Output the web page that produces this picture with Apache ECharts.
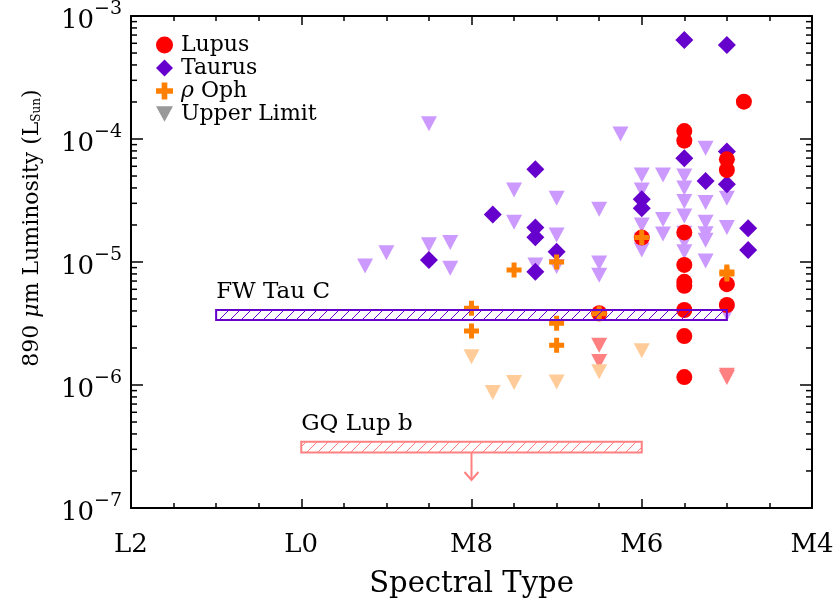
<!DOCTYPE html>
<html><head><meta charset="utf-8">
<script src="https://cdn.jsdelivr.net/npm/echarts@6/dist/echarts.min.js"></script>
<style>html,body{margin:0;padding:0;background:#fff}#c{width:835px;height:603px}</style>
</head><body><div id="c"></div>
<script>
// Spectral type encoded numerically: M4=4 ... M9=9, L0=10, L1=11, L2=12
const xTickValues = [4, 6, 8, 10, 12];
const xTickLabels = ['M4', 'M6', 'M8', 'L0', 'L2'];
const xRange = [4, 12];
const yRange = [1e-7, 1e-3];

const lupus = [[6,1.58e-5],[6.5,3.83e-6],
  [5.5,1.16e-4],[5.5,9.7e-5],[5.5,1.74e-5],[5.5,9.46e-6],[5.5,6.9e-6],[5.5,6.4e-6],[5.5,4.07e-6],[5.5,2.5e-6],[5.5,1.16e-6],
  [5,6.84e-5],[5,5.6e-5],[5,6.6e-6],[5,4.47e-6],[4.8,2.01e-4]];
const taurus = [[8.5,1.04e-5],[7.75,2.43e-5],[7.25,5.68e-5],[7.25,1.91e-5],[7.25,1.59e-5],[7.25,8.34e-6],[7,1.21e-5],
  [6,3.24e-5],[6,2.74e-5],[5.5,6.38e-4],[5.5,6.97e-5],[5.25,4.56e-5],[5,5.81e-4],[5,7.9e-5],[5,4.28e-5],[4.75,1.88e-5],[4.75,1.25e-5]];
const rhoOph = [[8,4.2e-6],[8,2.75e-6],[7.5,8.6e-6],[7,1.0e-5],[7,3.18e-6],[7,2.1e-6],[6.5,3.8e-6],[6,1.58e-5],[5,8.3e-6],[5,8.0e-6]];
const taurusUL = [[9.25,9.27e-6],[9,1.19e-5],[8.5,1.38e-5],[8.5,1.33e-4],[8.25,1.44e-5],[8.25,8.9e-6],
  [7.5,3.85e-5],[7.5,2.1e-5],[7.25,9.46e-6],[7,3.3e-5],[7,1.66e-5],[7,9.2e-6],
  [6.5,2.68e-5],[6.5,9.8e-6],[6.5,7.8e-6],[6.25,1.1e-4],
  [6,5.1e-5],[6,3.85e-5],[6,2.0e-5],[6,1.51e-5],[6,1.25e-5],
  [5.75,5.1e-5],[5.75,2.22e-5],[5.75,1.69e-5],
  [5.5,5.0e-5],[5.5,4.0e-5],[5.5,3.1e-5],[5.5,2.37e-5],[5.5,1.71e-5],[5.5,1.46e-5],[5.5,1.21e-5],
  [5.25,8.4e-5],[5.25,3.04e-5],[5.25,2.1e-5],[5.25,1.7e-5],[5.25,1.5e-5],[5.25,1.02e-5],
  [5,3.3e-5],[5,1.91e-5],[5,3.8e-6]];
const lupusUL = [[6.5,2.1e-6],[6.5,1.55e-6],[5,1.2e-6],[5,1.15e-6]];
const rhoOphUL = [[8,1.7e-6],[7.75,8.7e-7],[7.5,1.05e-6],[7,1.06e-6],[6.5,1.28e-6],[6,1.9e-6]];

// companion boxes: [xStart, xEnd, yLow, yHigh]
const boxNames = ['FW Tau C', 'GQ Lup b'];
const boxes = [[11, 5, 3.37e-6, 4.07e-6], [10, 6, 2.82e-7, 3.46e-7]];
const boxColors = ['#6600cc', '#ff8080'];
// upper-limit arrow for GQ Lup b: [x, yFrom, yTo]
const gqArrow = [[8, 2.82e-7, 1.69e-7]];

const minorMult = [2,3,4,5,6,7,8,9];
const decades = [1e-7,1e-6,1e-5,1e-4];
const yMinorTicks = [];
decades.forEach(d => minorMult.forEach(m => yMinorTicks.push(m * d)));

const FONT = '"DejaVu Serif"';
const plusPath = 'path://M5,0H10V5H15V10H10V15H5V10H0V5H5Z';
const triPath = 'path://M0,0H20L10,18Z';

function hatch(color) {
  const c = document.createElement('canvas');
  c.width = 11; c.height = 11;
  const g = c.getContext('2d');
  g.strokeStyle = color; g.lineWidth = 1;
  g.beginPath();
  g.moveTo(0, 11); g.lineTo(11, 0);
  g.moveTo(-5.5, 5.5); g.lineTo(5.5, -5.5);
  g.moveTo(5.5, 16.5); g.lineTo(16.5, 5.5);
  g.stroke();
  return c;
}
const hatches = boxColors.map(hatch);

const chart = echarts.init(document.getElementById('c'), null, {renderer: 'canvas'});

const axisCommon = {
  axisLine: {show: true, onZero: false, lineStyle: {color: '#000', width: 2}},
  splitLine: {show: false}
};
const solid = c => ({color: c, opacity: 1});

chart.setOption({
  animation: false,
  backgroundColor: '#fff',
  grid: {left: 131, right: 23, top: 16, bottom: 95, containLabel: false, outerBoundsMode: 'none'},
  legend: {
    data: [
      {name: 'Lupus', icon: 'circle'},
      {name: 'Taurus', icon: 'diamond'},
      {name: 'ρ Oph', icon: plusPath},
      {name: 'Upper Limit', icon: triPath}
    ],
    orient: 'vertical', left: 151, top: 29, padding: 5,
    itemWidth: 17, itemHeight: 17, itemGap: 1,
    formatter: n => n === 'ρ Oph' ? '{i|ρ} Oph' : n,
    textStyle: {fontFamily: FONT, fontSize: 22, lineHeight: 20, color: '#000', padding: [0, 0, 0, 3],
      rich: {i: {fontFamily: FONT, fontSize: 22, lineHeight: 20, fontStyle: 'italic'}}}
  },
  xAxis: [
    Object.assign({}, axisCommon, {
      type: 'value', min: xRange[0], max: xRange[1], interval: 2, inverse: true, position: 'bottom',
      axisTick: {inside: true, length: 9, lineStyle: {color: '#000', width: 1.5}},
      minorTick: {show: true, splitNumber: 4, length: 5, lineStyle: {color: '#000', width: 1.5}},
      axisLabel: {margin: 24, fontFamily: FONT, fontSize: 26, color: '#000', showMinLabel: true, showMaxLabel: true,
        formatter: v => { const i = xTickValues.indexOf(v); return i >= 0 ? xTickLabels[i] : ''; }},
      name: 'Spectral Type', nameLocation: 'middle', nameGap: 62,
      nameTextStyle: {fontFamily: FONT, fontSize: 29, color: '#000'}
    }),
    Object.assign({}, axisCommon, {
      type: 'value', min: xRange[0], max: xRange[1], interval: 2, inverse: true, position: 'top',
      axisTick: {inside: true, length: 9, lineStyle: {color: '#000', width: 1.5}},
      minorTick: {show: true, splitNumber: 4, length: 5, lineStyle: {color: '#000', width: 1.5}},
      axisLabel: {show: false}
    })
  ],
  yAxis: [
    Object.assign({}, axisCommon, {
      type: 'log', logBase: 10, min: yRange[0], max: yRange[1], position: 'left',
      axisTick: {inside: true, length: 12, lineStyle: {color: '#000', width: 1.5}},
      axisLabel: {margin: 9, color: '#000', lineHeight: 36,
        formatter: v => '{b|10}{e|−' + Math.round(-Math.log10(v)) + '}',
        rich: {
          b: {fontFamily: FONT, fontSize: 26, color: '#000', height: 26, verticalAlign: 'bottom'},
          e: {fontFamily: FONT, fontSize: 19, color: '#000', height: 22, verticalAlign: 'top'}
        }},
      name: '890 {i|μ}m Luminosity (L{s|Sun})', nameLocation: 'middle', nameGap: 88,
      nameTextStyle: {fontFamily: FONT, fontSize: 22, color: '#000', padding: [0, 0, 0, 68],
        rich: {
          i: {fontFamily: FONT, fontSize: 22, fontStyle: 'italic', color: '#000'},
          s: {fontFamily: FONT, fontSize: 12, color: '#000', verticalAlign: 'bottom'}
        }}
    }),
    Object.assign({}, axisCommon, {
      type: 'log', logBase: 10, min: yRange[0], max: yRange[1], position: 'right',
      axisTick: {inside: true, length: 12, lineStyle: {color: '#000', width: 1.5}},
      axisLabel: {show: false}
    })
  ],
  series: [
    {type: 'custom', name: 'yMinor', silent: true, z: 1,
      data: yMinorTicks.map(v => [8, v]),
      renderItem: (params, api) => {
        const cs = params.coordSys;
        const y = api.coord([8, api.value(1)])[1];
        return {type: 'group', children: [
          {type: 'line', shape: {x1: cs.x, y1: y, x2: cs.x + 6, y2: y}, style: {stroke: '#000', lineWidth: 1.5}},
          {type: 'line', shape: {x1: cs.x + cs.width, y1: y, x2: cs.x + cs.width - 6, y2: y}, style: {stroke: '#000', lineWidth: 1.5}}
        ]};
      }},
    {type: 'scatter', name: 'Taurus UL', data: taurusUL, symbol: triPath, symbolSize: [16, 15], itemStyle: solid('#cc99ff'), z: 2},
    {type: 'scatter', name: 'Lupus UL', data: lupusUL, symbol: triPath, symbolSize: [16, 15], itemStyle: solid('#ff8080'), z: 2},
    {type: 'scatter', name: 'ρ Oph UL', data: rhoOphUL, symbol: triPath, symbolSize: [16, 15], itemStyle: solid('#ffcc99'), z: 2},
    {type: 'scatter', name: 'Taurus', data: taurus, symbol: 'diamond', symbolSize: 18, itemStyle: solid('#6600cc'), z: 3},
    {type: 'scatter', name: 'Lupus', data: lupus, symbol: 'circle', symbolSize: 16, itemStyle: solid('#ff0000'), z: 4},
    {type: 'scatter', name: 'ρ Oph', data: rhoOph, symbol: plusPath, symbolSize: 15, itemStyle: solid('#ff8000'), z: 5},
    {type: 'scatter', name: 'Upper Limit', data: [], symbol: triPath, itemStyle: solid('#999999')},
    {type: 'custom', name: 'boxes', z: 6, silent: true,
      data: boxes,
      encode: {x: [0, 1], y: [2, 3]},
      renderItem: (params, api) => {
        const i = params.dataIndex;
        const a = api.coord([api.value(0), api.value(3)]);
        const b = api.coord([api.value(1), api.value(2)]);
        return {type: 'group', children: [
          {type: 'rect', shape: {x: a[0], y: a[1], width: b[0] - a[0], height: b[1] - a[1]},
            style: {fill: {image: hatches[i], repeat: 'repeat'}, stroke: boxColors[i], lineWidth: 2}},
          {type: 'text', x: a[0], y: a[1] - 6,
            style: {text: boxNames[i], fontFamily: FONT, fontSize: 23, fill: '#000', align: 'left', verticalAlign: 'bottom'}}
        ]};
      }},
    {type: 'custom', name: 'arrow', z: 6, silent: true,
      data: gqArrow,
      encode: {x: 0, y: [1, 2]},
      renderItem: (params, api) => {
        const t = api.coord([api.value(0), api.value(1)]);
        const b = api.coord([api.value(0), api.value(2)]);
        return {type: 'group', children: [
          {type: 'line', shape: {x1: t[0], y1: t[1], x2: b[0], y2: b[1]}, style: {stroke: '#ff8080', lineWidth: 2}},
          {type: 'polyline', shape: {points: [[b[0] - 7, b[1] - 8], [b[0], b[1]], [b[0] + 7, b[1] - 8]]}, style: {stroke: '#ff8080', lineWidth: 2, fill: null}}
        ]};
      }}
  ]
});
</script></body></html>
